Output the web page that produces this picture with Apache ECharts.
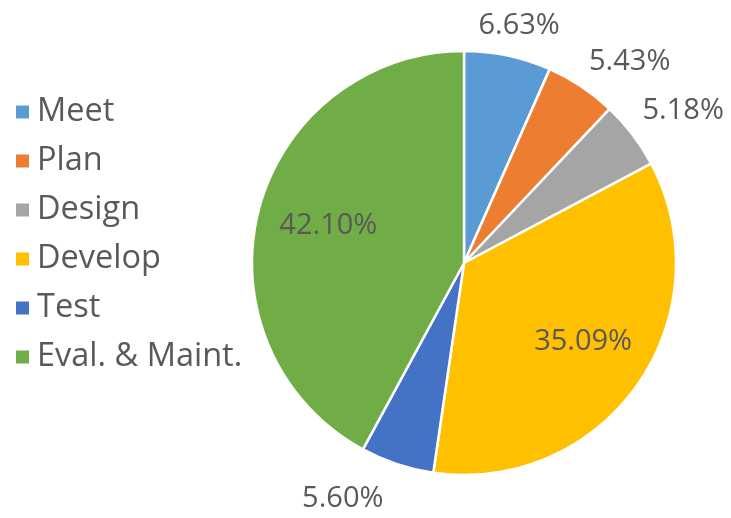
<!DOCTYPE html>
<html><head><meta charset="utf-8">
<script src="https://cdn.jsdelivr.net/npm/echarts@6/dist/echarts.min.js"></script>
<style>html,body{margin:0;padding:0;background:#fff}#c{width:731px;height:518px}</style>
</head><body><div id="c"></div>
<script>
const categories = ['Meet', 'Plan', 'Design', 'Develop', 'Test', 'Eval. & Maint.'];
const values = [6.63, 5.43, 5.18, 35.09, 5.60, 42.10];
const colors = ['#5B9BD5', '#ED7D31', '#A5A5A5', '#FFC000', '#4472C4', '#70AD47'];
const insideLabel = [false, false, false, true, false, true];

const FONT = '"Open Sans", "Liberation Sans", sans-serif';
const CX = 464, CY = 263, R = 212;
const total = values.reduce((a, b) => a + b, 0);
const mids = [];
let cum = 0;
values.forEach(v => { mids.push((cum + v / 2) / total * 2 * Math.PI); cum += v; });

// small per-label nudges (pixels) to mimic the original label placement
const labelNudge = [[0, -3], [18, -2], [7, -7], [3, -3], [-37, 9], [2, -2]];

const chart = echarts.init(document.getElementById('c'));
chart.setOption({
  animation: false,
  color: colors,
  legend: {
    orient: 'vertical', left: 9, top: 89,
    icon: 'rect', itemWidth: 15, itemHeight: 15, itemGap: 13,
    textStyle: { fontFamily: FONT, fontSize: 32.5, color: '#595959', lineHeight: 36, padding: [0, 0, 0, 2] }
  },
  series: [{
    type: 'pie',
    center: [CX, CY],
    radius: R,
    startAngle: 90,
    clockwise: true,
    itemStyle: { borderColor: '#ffffff', borderWidth: 2.5 },
    label: {
      show: true, position: 'inside',
      formatter: p => p.value.toFixed(2) + '%',
      fontFamily: FONT, fontSize: 29, color: '#595959'
    },
    labelLine: { show: false },
    labelLayout: function (p) {
      const i = p.dataIndex;
      const a = mids[i];
      const dx = Math.sin(a), dy = -Math.cos(a);
      const n = labelNudge[i];
      if (insideLabel[i]) {
        return { x: CX + dx * R * 0.67 + n[0], y: CY + dy * R * 0.67 + n[1], align: 'center', verticalAlign: 'middle' };
      }
      const w = p.labelRect.width, h = p.labelRect.height;
      const d = R + 14;
      return { x: CX + dx * d + dx * w / 2 + n[0], y: CY + dy * d + dy * h * 0.45 + n[1], align: 'center', verticalAlign: 'middle' };
    },
    data: categories.map((n, i) => ({ name: n, value: values[i] }))
  }]
});
</script></body></html>
